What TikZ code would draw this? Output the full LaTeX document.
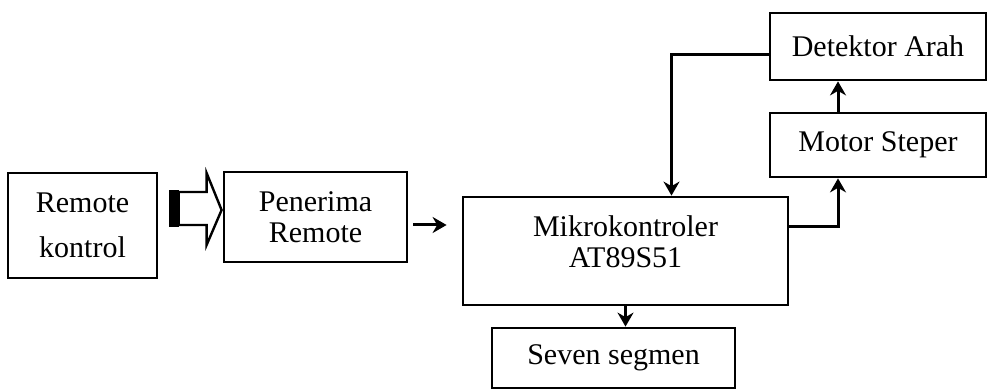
\documentclass[tikz,border=0pt]{standalone}
\usepackage{fontspec}
\setmainfont{Liberation Serif}
\usepackage{tikz}
\usetikzlibrary{arrows.meta,positioning,calc}

\begin{document}
\begin{tikzpicture}[x=0.5pt, y=-0.5pt,
    box/.style={draw, line width=1.4pt, align=center, inner sep=0pt, font=\fontsize{15}{15.5}\selectfont},
    conn/.style={line width=1.5pt, -{Stealth[length=7pt, width=8pt]}}]
    \useasboundingbox (0,0) rectangle (988,389);

    % blocks
    \node[box, minimum width=74.5pt, minimum height=52.5pt] (rk) at (82.5,225.5) {Remote\\[7pt]kontrol};
    \node[box, minimum width=91.5pt, minimum height=45pt] (pr) at (315.5,217) {Penerima\\Remote};
    \node[box, minimum width=162.5pt, minimum height=54pt, text depth=9pt] (mk) at (625.5,251) {Mikrokontroler\\AT89S51};
    \node[box, minimum width=121.5pt, minimum height=30pt] (ss) at (613.5,358) {Seven segmen};
    \node[box, minimum width=108pt, minimum height=32pt] (ms) at (878,145) {Motor Steper};
    \node[box, minimum width=108pt, minimum height=33.5pt] (da) at (878,46.5) {Detektor Arah};

    % hollow arrow remote -> penerima
    \coordinate (tip) at ($(pr.west)+(-1,-7)$);
    \fill ($(tip)+(-53,-20)$) rectangle ($(tip)+(-43,17)$);
    \draw[line width=1.2pt, line join=miter] (tip) -- ++(-15,-37) -- ++(0,19) -- ++(-28,0) -- ++(0,33) -- ++(28,0) -- ++(0,20) -- cycle;

    % connectors
    \coordinate (pa) at ($(pr.east)+(0,8)$);
    \draw[conn, shorten <=2.5pt, shorten >=7.5pt] (pa) -- (mk.west |- pa);
    \draw[conn] (mk.south) -- (mk.south |- ss.north);
    \coordinate (mo) at ($(mk.east)+(0,-24)$);
    \coordinate (mi) at ($(ms.south)+(-40,0)$);
    \draw[conn] (mo) -| (mi);
    \draw[conn] ($(ms.north)+(-40,0)$) -- ($(da.south)+(-40,0)$);
    \coordinate (dw) at ($(da.west)+(0,8)$);
    \coordinate (mt) at ($(mk.north)+(46,0)$);
    \draw[conn] (dw) -| (mt);
\end{tikzpicture}
\end{document}
